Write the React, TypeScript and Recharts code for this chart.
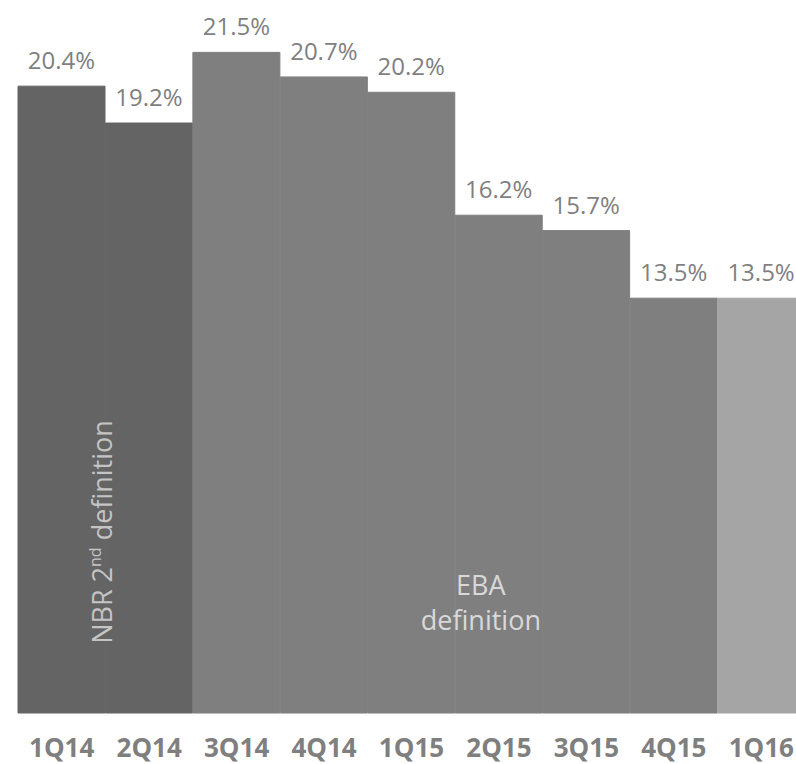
import React from 'react';
import { BarChart, Bar, XAxis, YAxis, Cell, LabelList } from 'recharts';

const quarters = ['1Q14', '2Q14', '3Q14', '4Q14', '1Q15', '2Q15', '3Q15', '4Q15', '1Q16'];
const nplRatio = [20.4, 19.2, 21.5, 20.7, 20.2, 16.2, 15.7, 13.5, 13.5];
const definitionGroup = ['NBR', 'NBR', 'EBA', 'EBA', 'EBA', 'EBA', 'EBA', 'EBA', 'LATEST'];
const valueLabels = ['20.4%', '19.2%', '21.5%', '20.7%', '20.2%', '16.2%', '15.7%', '13.5%', '13.5%'];
const nbrLabel = ['NBR 2', 'nd', ' definition'];
const ebaLabel = ['EBA', 'definition'];

const COLORS: Record<string, string> = {
  NBR: '#646464',
  EBA: '#7f7f7f',
  LATEST: '#a5a5a5',
};

const FONT = '"Open Sans", "DejaVu Sans", sans-serif';

const data = quarters.map((q, i) => ({
  quarter: q,
  value: nplRatio[i],
  label: valueLabels[i],
  group: definitionGroup[i],
}));

const Annotation = (props: any) => {
  const vb = props.viewBox || {};
  const x = props.x ?? vb.x;
  const y = props.y ?? vb.y;
  const width = props.width ?? vb.width;
  const height = props.height ?? vb.height;
  const index = props.index;
  if (x == null || y == null) return null;
  const bottom = y + height;
  if (index === 0) {
    const cx = x + width + 7;
    const cy = bottom - 181;
    return (
      <text
        x={cx}
        y={cy}
        transform={`rotate(-90 ${cx} ${cy})`}
        textAnchor="middle"
        fill="#c4c4c4"
        fontSize={27}
        fontFamily={FONT}
      >
        {nbrLabel[0]}
        <tspan fontSize={16} dy={-11}>{nbrLabel[1]}</tspan>
        <tspan dy={11}>{nbrLabel[2]}</tspan>
      </text>
    );
  }
  if (index === 4) {
    const cx = x + width * 1.3;
    return (
      <text textAnchor="middle" fill="#d9d9d9" fontSize={27} fontFamily={FONT}>
        <tspan x={cx} y={bottom - 118}>{ebaLabel[0]}</tspan>
        <tspan x={cx} y={bottom - 83}>{ebaLabel[1]}</tspan>
      </text>
    );
  }
  return null;
};

export default function App() {
  return (
    <div
      style={{
        position: 'absolute',
        top: 0,
        left: 0,
        width: 796,
        height: 764,
        overflow: 'hidden',
        fontFamily: FONT,
        background: '#fff',
      }}
    >
      <BarChart
        width={805}
        height={764}
        data={data}
        margin={{ top: 37, right: 0, bottom: 0, left: 18 }}
        barCategoryGap={0}
        barGap={0}
      >
        <YAxis hide domain={[0, 22]} />
        <XAxis
          dataKey="quarter"
          axisLine={false}
          tickLine={false}
          tickSize={0}
          tickMargin={26}
          height={51}
          interval={0}
          tick={{ fill: '#7f7f7f', fontSize: 26, fontWeight: 700, fontFamily: FONT }}
        />
        <Bar dataKey="value" isAnimationActive={false}>
          {data.map((d, i) => (
            <Cell key={i} fill={COLORS[d.group]} stroke={COLORS[d.group]} strokeWidth={1} />
          ))}
          <LabelList
            dataKey="label"
            position="top"
            offset={17}
            fill="#7f7f7f"
            fontSize={24}
            fontFamily={FONT}
          />
          <LabelList dataKey="label" content={Annotation} />
        </Bar>
      </BarChart>
    </div>
  );
}
